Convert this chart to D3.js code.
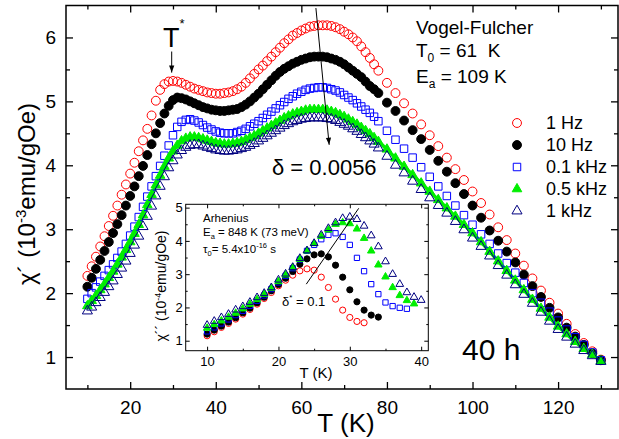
<!DOCTYPE html>
<html>
<head>
<meta charset="utf-8">
<script src="https://cdn.jsdelivr.net/npm/d3@7"></script>
<style>
    body { margin: 0; background: #fff; }
    svg { display: block; font-family: "Liberation Sans", Arial, Helvetica, sans-serif; }
</style>
</head>
<body>
<div id="chart"></div>
<script>
// ---- data ----
const mainTemps = [10, 11, 12, 13, 14, 15, 16, 17, 18, 19, 20, 21, 22, 23, 24, 25, 26, 27, 28, 29, 30,
    31, 32, 33, 34, 35, 36, 37, 38, 39, 40, 41, 42, 43, 44, 45, 46, 47, 48, 49, 50,
    51, 52, 53, 54, 55, 56, 57, 58, 59, 60, 61, 62, 63, 64,
    65, 66, 67, 68, 69, 70, 71, 72, 73, 74, 75, 76, 77, 78,
    80, 82, 84, 86, 88, 90, 92, 94, 96, 98, 100, 102, 104, 106, 108, 110,
    112, 114, 116, 118, 120, 122, 124, 126, 128, 130];

const chi1Hz = [2.27, 2.42, 2.57, 2.73, 2.89, 3.05, 3.21, 3.37, 3.54, 3.70, 3.87, 4.04, 4.22, 4.39, 4.57, 4.78, 5.01, 5.18, 5.27, 5.31, 5.32,
    5.31, 5.29, 5.26, 5.23, 5.20, 5.18, 5.16, 5.14, 5.13, 5.12, 5.12, 5.13, 5.14, 5.16, 5.19, 5.23, 5.29, 5.36, 5.43, 5.50,
    5.56, 5.63, 5.70, 5.77, 5.84, 5.91, 5.97, 6.03, 6.07, 6.11, 6.14, 6.17, 6.18, 6.19,
    6.19, 6.19, 6.18, 6.16, 6.13, 6.09, 6.05, 6.00, 5.94, 5.86, 5.77, 5.68, 5.58, 5.48,
    5.29, 5.13, 4.97, 4.81, 4.64, 4.47, 4.30, 4.12, 3.94, 3.77, 3.59, 3.41, 3.23, 3.03, 2.83, 2.62,
    2.43, 2.23, 2.04, 1.85, 1.68, 1.52, 1.36, 1.22, 1.09, 0.96];

const chi10Hz = [2.10, 2.24, 2.38, 2.52, 2.66, 2.80, 2.94, 3.08, 3.22, 3.37, 3.52, 3.67, 3.83, 3.99, 4.16, 4.33, 4.50, 4.66, 4.81, 4.93, 5.02,
    5.06, 5.05, 5.03, 5.00, 4.97, 4.94, 4.91, 4.89, 4.87, 4.86, 4.85, 4.85, 4.86, 4.87, 4.88, 4.91, 4.95, 5.00, 5.06, 5.12,
    5.19, 5.26, 5.33, 5.40, 5.46, 5.51, 5.55, 5.59, 5.62, 5.65, 5.67, 5.69, 5.70, 5.70,
    5.70, 5.69, 5.67, 5.65, 5.62, 5.58, 5.53, 5.48, 5.43, 5.38, 5.31, 5.24, 5.19, 5.13,
    4.98, 4.85, 4.70, 4.55, 4.41, 4.24, 4.07, 3.90, 3.72, 3.55, 3.37, 3.18, 2.98, 2.82, 2.65, 2.48,
    2.29, 2.11, 1.94, 1.77, 1.62, 1.46, 1.32, 1.19, 1.06, 0.95];

const chi100Hz = [1.91, 2.00, 2.09, 2.18, 2.27, 2.36, 2.45, 2.55, 2.65, 2.77, 2.90, 3.04, 3.19, 3.35, 3.51, 3.67, 3.83, 3.99, 4.15, 4.31, 4.47,
    4.60, 4.68, 4.71, 4.72, 4.70, 4.67, 4.63, 4.59, 4.56, 4.53, 4.51, 4.50, 4.50, 4.50, 4.52, 4.54, 4.57, 4.61, 4.65, 4.69,
    4.74, 4.79, 4.84, 4.89, 4.94, 4.99, 5.04, 5.08, 5.12, 5.15, 5.18, 5.20, 5.21, 5.22,
    5.22, 5.21, 5.19, 5.17, 5.14, 5.10, 5.06, 5.02, 4.97, 4.92, 4.87, 4.82, 4.76, 4.69,
    4.54, 4.40, 4.26, 4.12, 3.97, 3.82, 3.67, 3.52, 3.37, 3.22, 3.07, 2.92, 2.77, 2.62, 2.47, 2.32,
    2.16, 2.00, 1.85, 1.71, 1.57, 1.43, 1.31, 1.19, 1.07, 0.95];

const chi500Hz = [1.80, 1.88, 1.96, 2.05, 2.14, 2.24, 2.34, 2.45, 2.56, 2.68, 2.80, 2.93, 3.07, 3.22, 3.38, 3.54, 3.69, 3.84, 3.98, 4.11, 4.22,
    4.31, 4.38, 4.42, 4.44, 4.44, 4.43, 4.41, 4.39, 4.37, 4.35, 4.34, 4.33, 4.33, 4.34, 4.35, 4.37, 4.40, 4.43, 4.46, 4.50,
    4.54, 4.58, 4.62, 4.66, 4.70, 4.74, 4.77, 4.80, 4.82, 4.84, 4.86, 4.87, 4.87, 4.87,
    4.87, 4.86, 4.84, 4.82, 4.79, 4.76, 4.72, 4.68, 4.64, 4.59, 4.54, 4.49, 4.43, 4.37,
    4.25, 4.11, 3.98, 3.85, 3.72, 3.59, 3.46, 3.33, 3.20, 3.07, 2.94, 2.80, 2.65, 2.50, 2.35, 2.20,
    2.05, 1.90, 1.76, 1.62, 1.48, 1.36, 1.24, 1.13, 1.04, 0.94];

const chi1kHz = [1.72, 1.78, 1.85, 1.93, 2.01, 2.10, 2.19, 2.29, 2.39, 2.50, 2.62, 2.75, 2.89, 3.04, 3.20, 3.36, 3.52, 3.67, 3.82, 3.96, 4.07,
    4.16, 4.23, 4.28, 4.31, 4.32, 4.32, 4.30, 4.28, 4.26, 4.24, 4.23, 4.22, 4.22, 4.23, 4.24, 4.26, 4.28, 4.31, 4.34, 4.38,
    4.42, 4.46, 4.50, 4.54, 4.58, 4.62, 4.65, 4.68, 4.70, 4.72, 4.73, 4.74, 4.74, 4.74,
    4.74, 4.73, 4.72, 4.70, 4.67, 4.64, 4.61, 4.57, 4.53, 4.48, 4.43, 4.38, 4.33, 4.27,
    4.14, 4.00, 3.88, 3.75, 3.62, 3.49, 3.37, 3.25, 3.12, 2.99, 2.86, 2.73, 2.58, 2.43, 2.28, 2.13,
    1.98, 1.84, 1.70, 1.56, 1.43, 1.31, 1.20, 1.10, 1.02, 0.93];

// inset: chi'' (10^-4 emu/gOe), one point per kelvin starting at 10 K
const insetTemps = [10, 11, 12, 13, 14, 15, 16, 17, 18, 19, 20, 21, 22, 23, 24, 25,
    26, 27, 28, 29, 30, 31, 32, 33, 34, 35, 36, 37, 38, 39, 40];
const chi2_1Hz = [1.15, 1.27, 1.40, 1.52, 1.65, 1.80, 1.94, 2.10, 2.27, 2.45, 2.65, 2.82, 2.97, 3.10, 3.16, 3.12,
    2.91, 2.60, 2.25, 1.92, 1.70, 1.58, 1.54];
const chi2_10Hz = [1.20, 1.32, 1.44, 1.56, 1.69, 1.84, 1.98, 2.14, 2.31, 2.50, 2.69, 2.88, 3.08, 3.30, 3.46, 3.58,
    3.61, 3.52, 3.27, 2.91, 2.53, 2.17, 1.92, 1.77, 1.71];
const chi2_100Hz = [1.28, 1.40, 1.52, 1.64, 1.77, 1.90, 2.05, 2.20, 2.36, 2.55, 2.75, 2.95, 3.18, 3.44, 3.70, 3.88,
    4.05, 4.18, 4.23, 4.12, 3.88, 3.49, 3.09, 2.70, 2.40, 2.15, 2.04, 1.99, 1.96];
const chi2_500Hz = [1.38, 1.49, 1.60, 1.71, 1.83, 1.96, 2.10, 2.24, 2.40, 2.58, 2.78, 2.98, 3.20, 3.45, 3.70, 3.92,
    4.14, 4.33, 4.50, 4.55, 4.52, 4.36, 4.08, 3.70, 3.28, 2.92, 2.60, 2.36, 2.21, 2.11];
const chi2_1kHz = [1.47, 1.59, 1.70, 1.80, 1.93, 2.03, 2.16, 2.30, 2.43, 2.60, 2.83, 3.01, 3.21, 3.48, 3.71, 3.93,
    4.18, 4.38, 4.55, 4.68, 4.72, 4.65, 4.45, 4.16, 3.83, 3.38, 3.00, 2.70, 2.45, 2.31, 2.22];

const legendLabels = ["1 Hz", "10 Hz", "0.1 kHz", "0.5 kHz", "1 kHz"];

const mainXTicks = [20, 40, 60, 80, 100, 120];
const mainXMinor = [10, 30, 50, 70, 90, 110, 130];
const mainYTicks = [1, 2, 3, 4, 5, 6];
const mainYMinor = [1.5, 2.5, 3.5, 4.5, 5.5];
const insetXTicks = [10, 20, 30, 40];
const insetXMinor = [15, 25, 35];
const insetYTicks = [1, 2, 3, 4, 5];
const insetYMinor = [1.5, 2.5, 3.5, 4.5];

// ---- chart ----
const width = 619, height = 439;
const FONT = '"Liberation Sans", Arial, Helvetica, sans-serif';

const svg = d3.select("#chart").append("svg")
    .attr("width", width)
    .attr("height", height)
    .attr("viewBox", `0 0 ${width} ${height}`);

    // main panel scales
const plot = { left: 66, right: 618, top: 5.5, bottom: 389 };
const x = d3.scaleLinear().domain([5, 134]).range([plot.left, plot.right]);
const y = d3.scaleLinear().domain([0.5, 6.5]).range([plot.bottom, plot.top]);

    // inset scales
const ins = { left: 185.7, right: 428.3, top: 204.3, bottom: 350.7 };
const xi = d3.scaleLinear().domain([7, 41]).range([ins.left, ins.right]);
const yi = d3.scaleLinear().domain([0.7, 5.1]).range([ins.bottom, ins.top]);

const styles = [
    { type: d3.symbolCircle, fill: "none", stroke: "#ff0000", size: 62, isize: 30 },
    { type: d3.symbolCircle, fill: "#000000", stroke: "#000000", size: 62, isize: 30 },
    { type: d3.symbolSquare, fill: "none", stroke: "#0000ff", size: 56, isize: 28 },
    { type: d3.symbolTriangle, fill: "#00ee00", stroke: "#00ee00", size: 40, isize: 24 },
    { type: d3.symbolTriangle, fill: "none", stroke: "#000080", size: 44, isize: 26 }
];

const mainSeries = [chi1Hz, chi10Hz, chi100Hz, chi500Hz, chi1kHz].map((vals, i) => ({
    label: legendLabels[i],
    style: styles[i],
    points: vals.map((v, k) => ({ t: mainTemps[k], v }))
}));
const insetSeries = [chi2_1Hz, chi2_10Hz, chi2_100Hz, chi2_500Hz, chi2_1kHz].map((vals, i) => ({
    label: legendLabels[i],
    style: styles[i],
    points: vals.map((v, k) => ({ t: insetTemps[k], v }))
}));

    // draws inward ticks on all four sides of a frame
function frameAxes(g, xs, ys, box, o) {
    const styleAxis = sel => {
        sel.select(".domain").remove();
        sel.selectAll("line").attr("stroke", "#000").attr("stroke-width", o.tickWidth);
        sel.selectAll("text").attr("font-family", FONT).attr("font-size", o.fontSize).attr("fill", "#000");
    };
    g.append("g").attr("transform", `translate(0,${box.bottom})`)
        .call(d3.axisBottom(xs).tickValues(o.xMajor).tickSizeInner(-o.major).tickSizeOuter(0)
            .tickPadding(o.xPad).tickFormat(d3.format("d"))).call(styleAxis);
    g.append("g").attr("transform", `translate(0,${box.bottom})`)
        .call(d3.axisBottom(xs).tickValues(o.xMinor).tickSize(-o.minor).tickFormat("")).call(styleAxis);
    g.append("g").attr("transform", `translate(0,${box.top})`)
        .call(d3.axisTop(xs).tickValues(o.xMajor).tickSize(-o.major).tickFormat("")).call(styleAxis);
    g.append("g").attr("transform", `translate(0,${box.top})`)
        .call(d3.axisTop(xs).tickValues(o.xMinor).tickSize(-o.minor).tickFormat("")).call(styleAxis);
    g.append("g").attr("transform", `translate(${box.left},0)`)
        .call(d3.axisLeft(ys).tickValues(o.yMajor).tickSizeInner(-o.major).tickSizeOuter(0)
            .tickPadding(o.yPad).tickFormat(d3.format("d"))).call(styleAxis);
    g.append("g").attr("transform", `translate(${box.left},0)`)
        .call(d3.axisLeft(ys).tickValues(o.yMinor).tickSize(-o.minor).tickFormat("")).call(styleAxis);
    g.append("g").attr("transform", `translate(${box.right},0)`)
        .call(d3.axisRight(ys).tickValues(o.yMajor).tickSize(-o.major).tickFormat("")).call(styleAxis);
    g.append("g").attr("transform", `translate(${box.right},0)`)
        .call(d3.axisRight(ys).tickValues(o.yMinor).tickSize(-o.minor).tickFormat("")).call(styleAxis);
    g.append("rect")
        .attr("x", box.left).attr("y", box.top)
        .attr("width", box.right - box.left).attr("height", box.bottom - box.top)
        .attr("fill", "none").attr("stroke", "#000").attr("stroke-width", o.frameWidth);
}

function drawPoints(g, series, xs, ys, sizeKey) {
    series.forEach(s => {
        const sym = d3.symbol().type(s.style.type).size(s.style[sizeKey]);
        g.append("g")
            .selectAll("path")
            .data(s.points)
            .join("path")
            .attr("transform", d => `translate(${xs(d.t)},${ys(d.v)})`)
            .attr("d", sym)
            .attr("fill", s.style.fill)
            .attr("stroke", s.style.stroke)
            .attr("stroke-width", 1);
    });
}

function arrow(g, x1, y1, x2, y2, head) {
    g.append("line").attr("x1", x1).attr("y1", y1).attr("x2", x2).attr("y2", y2)
        .attr("stroke", "#000").attr("stroke-width", 1);
    if (!head) return;
    const a = Math.atan2(y2 - y1, x2 - x1);
    const L = 7, W = 2.6;
    const bx = x2 - L * Math.cos(a), by = y2 - L * Math.sin(a);
    g.append("path")
        .attr("d", `M${x2},${y2}L${bx + W * Math.sin(a)},${by - W * Math.cos(a)}L${bx - W * Math.sin(a)},${by + W * Math.cos(a)}Z`)
        .attr("fill", "#000");
}

    // ---- main panel ----
const main = svg.append("g");

    // the 0.5 kHz data are so dense at low T that they read as a line
main.append("path")
    .datum(mainSeries[3].points)
    .attr("d", d3.line().x(d => x(d.t)).y(d => y(d.v)).curve(d3.curveMonotoneX))
    .attr("fill", "none")
    .attr("stroke", "#00ee00")
    .attr("stroke-width", 3.5);

drawPoints(main, mainSeries, x, y, "size");

frameAxes(main, x, y, plot, {
    xMajor: mainXTicks, xMinor: mainXMinor, yMajor: mainYTicks, yMinor: mainYMinor,
    major: 7, minor: 4, tickWidth: 1.3, frameWidth: 1.5, fontSize: 19, xPad: 12, yPad: 10
});

    // axis titles
svg.append("text")
    .attr("x", 346).attr("y", 432)
    .attr("text-anchor", "middle")
    .attr("font-size", 26)
    .text("T (K)");

const yTitle = svg.append("text")
    .attr("transform", "translate(35,194) rotate(-90)")
    .attr("text-anchor", "middle")
    .attr("font-size", 24);
yTitle.append("tspan").text("χ´ (10");
yTitle.append("tspan").attr("dy", -9).attr("font-size", 15).text("-3");
yTitle.append("tspan").attr("dy", 9).text("emu/gOe)");

    // T* marker
const tStar = svg.append("text").attr("x", 163).attr("y", 47).attr("font-size", 27);
tStar.append("tspan").text("T");
tStar.append("tspan").attr("dy", -19).attr("font-size", 13).text("*");
arrow(svg, x(29.7), y(5.78), x(29.7), y(5.45), true);

    // frequency shift of the main maximum
arrow(svg, x(63.4), y(6.46), x(66.5), y(4.32), true);
svg.append("text").attr("x", 272).attr("y", 175).attr("font-size", 22).text("δ = 0.0056");

    // Vogel-Fulcher parameters
svg.append("text").attr("x", 416).attr("y", 34).attr("font-size", 19).text("Vogel-Fulcher");
const t0 = svg.append("text").attr("x", 416).attr("y", 57).attr("font-size", 19);
t0.append("tspan").text("T");
t0.append("tspan").attr("dy", 5).attr("font-size", 12).text("0");
t0.append("tspan").attr("dy", -5).text(" = 61\u00a0\u00a0K");
const ea = svg.append("text").attr("x", 416).attr("y", 83).attr("font-size", 19);
ea.append("tspan").text("E");
ea.append("tspan").attr("dy", 5).attr("font-size", 12).text("a");
ea.append("tspan").attr("dy", -5).text(" = 109 K");

    // legend
const legend = svg.append("g");
mainSeries.forEach((s, i) => {
    const row = legend.append("g").attr("transform", `translate(517,${123 + i * 22})`);
    row.append("path")
        .attr("d", d3.symbol().type(s.style.type).size(s.style.size))
        .attr("fill", s.style.fill)
        .attr("stroke", s.style.stroke)
        .attr("stroke-width", 1);
    row.append("text")
        .attr("x", 29).attr("dy", "0.36em")
        .attr("font-size", 18)
        .text(s.label);
});

svg.append("text").attr("x", 462).attr("y", 360).attr("font-size", 30).text("40 h");

    // ---- inset ----
const inset = svg.append("g");
inset.append("rect")
    .attr("x", ins.left).attr("y", ins.top)
    .attr("width", ins.right - ins.left).attr("height", ins.bottom - ins.top)
    .attr("fill", "#fff");

drawPoints(inset, insetSeries, xi, yi, "isize");

frameAxes(inset, xi, yi, ins, {
    xMajor: insetXTicks, xMinor: insetXMinor, yMajor: insetYTicks, yMinor: insetYMinor,
    major: 4, minor: 2, tickWidth: 1, frameWidth: 1, fontSize: 13, xPad: 6, yPad: 3
});

arrow(inset, xi(23.9), yi(2.70), xi(31.25), yi(4.98), false);

inset.append("text")
    .attr("x", 316).attr("y", 378)
    .attr("text-anchor", "middle")
    .attr("font-size", 15)
    .text("T (K)");

const yiTitle = inset.append("text")
    .attr("transform", "translate(166,286) rotate(-90)")
    .attr("text-anchor", "middle")
    .attr("font-size", 14);
yiTitle.append("tspan").text("χ´´ (10");
yiTitle.append("tspan").attr("dy", -5).attr("font-size", 9).text("-4");
yiTitle.append("tspan").attr("dy", 5).text("emu/gOe)");

inset.append("text").attr("x", 203).attr("y", 222).attr("font-size", 11.5).text("Arhenius");
const eaIn = inset.append("text").attr("x", 203).attr("y", 236).attr("font-size", 11.5);
eaIn.append("tspan").text("E");
eaIn.append("tspan").attr("dy", 3).attr("font-size", 7.5).text("a");
eaIn.append("tspan").attr("dy", -3).text(" = 848 K (73 meV)");
const tauIn = inset.append("text").attr("x", 203).attr("y", 253).attr("font-size", 11.5);
tauIn.append("tspan").text("τ");
tauIn.append("tspan").attr("dy", 3).attr("font-size", 7.5).text("0");
tauIn.append("tspan").attr("dy", -3).text("= 5.4x10");
tauIn.append("tspan").attr("dy", -5).attr("font-size", 7.5).text("-16");
tauIn.append("tspan").attr("dy", 5).text(" s");

const dStar = inset.append("text").attr("x", 282).attr("y", 306).attr("font-size", 13);
dStar.append("tspan").text("δ");
dStar.append("tspan").attr("dy", -6).attr("font-size", 8).text("*");
dStar.append("tspan").attr("dy", 6).text(" = 0.1");
</script>
</body>
</html>
